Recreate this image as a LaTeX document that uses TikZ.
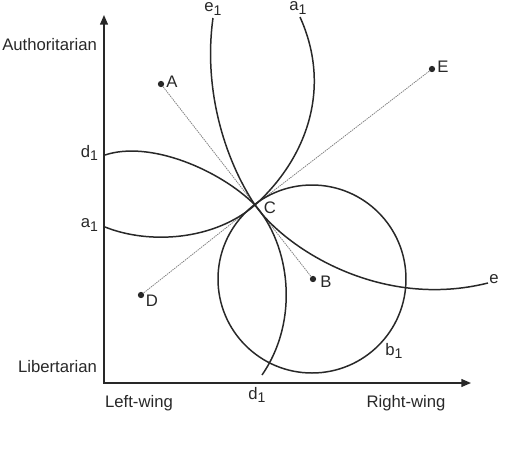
\documentclass[tikz,border=0pt]{standalone}
\usepackage{fontspec}
\setmainfont{Liberation Sans}
\usetikzlibrary{arrows.meta}
\definecolor{ink}{RGB}{40,40,40}
\newcommand\sbs[1]{\raisebox{-0.35ex}{\footnotesize #1}}
\begin{document}
\begin{tikzpicture}[x=0.02cm,y=-0.02cm,
  every node/.style={font=\fontsize{9.5}{11}\selectfont,text=ink,inner sep=1pt},
  axis/.style={draw=ink,line width=0.8pt},
  curve/.style={draw=ink,line width=0.85pt},
  ray/.style={draw=gray,line width=0.45pt,dash pattern=on 0.8pt off 0.5pt},
  pt/.style={circle,fill=ink,inner sep=0pt,minimum size=3.6pt}]
\useasboundingbox (0,0) rectangle (512,451);
% axes
\coordinate (O) at (104,383);
\coordinate (ytip) at (104,15);
\coordinate (xtip) at (471,383);
\draw[axis,{Triangle[length=5.5pt,width=4.5pt]}-{Triangle[length=5.5pt,width=4.5pt]}] (ytip) -- (O) -- (xtip);
\node[anchor=east] (auth) at (99,45) {Authoritarian};
\node[anchor=east] (lib) at (99,367) {Libertarian};
\node[anchor=west] (left) at (103,403) {Left-wing};
\node (right) at (406,403) {Right-wing};
% points
\node[pt] (A) at (161,84) {};
\node[pt] (E) at (432,69) {};
\node[pt] (D) at (141,295) {};
\node[pt] (B) at (313,279) {};
\coordinate (C) at (255,205);
\node (lA) at (172,82) {A};
\node (lE) at (443,67) {E};
\node (lD) at (152,301) {D};
\node (lB) at (326,282) {B};
\node (lC) at (270,208) {C};
% rays
\draw[ray] (A) -- (C);
\draw[ray] (E) -- (C);
\draw[ray] (D) -- (C);
\draw[ray] (B) -- (C);
% curve e1 - e
\coordinate (e1t) at (213,18);
\coordinate (er) at (488,283);
\draw[curve] (e1t) .. controls (203,90) and (225,160) .. (C)
  .. controls (285,248) and (380,310) .. (er);
% curve a1
\coordinate (a1t) at (300,17);
\coordinate (a1l) at (105,227);
\draw[curve] (a1t) .. controls (333,90) and (305,160) .. (C)
  .. controls (215,240) and (150,245) .. (a1l);
% curve d1
\coordinate (d1l) at (105,155);
\coordinate (d1b) at (262,375);
\draw[curve] (d1l) .. controls (150,140) and (220,170) .. (C)
  .. controls (290,245) and (300,320) .. (d1b);
% circle b1
\coordinate (Bc) at (312,279);
\draw[curve] (Bc) circle[radius=94];
% curve labels
\node (le1) at (213,9) {e\sbs{1}};
\node (la1t) at (298,8) {a\sbs{1}};
\node[anchor=east] (ld1l) at (100,153) {d\sbs{1}};
\node[anchor=east] (la1l) at (100,225) {a\sbs{1}};
\node (ld1b) at (257,395) {d\sbs{1}};
\node (lb1) at (394,351) {b\sbs{1}};
\node (le) at (494,279) {e};
\end{tikzpicture}
\end{document}
